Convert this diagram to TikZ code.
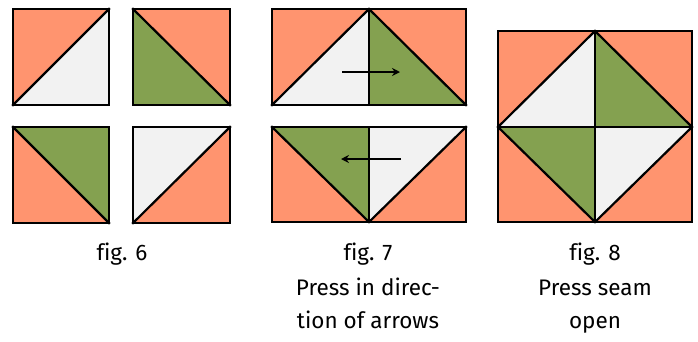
\documentclass[tikz,border=0pt]{standalone}
\usepackage{fontspec}
\setmainfont{Fira Sans}[Ligatures=NoCommon]
\usetikzlibrary{arrows.meta}
\definecolor{salmon}{HTML}{FF946F}
\definecolor{leaf}{HTML}{84A150}
\definecolor{pale}{HTML}{F2F2F2}
\begin{document}
\begin{tikzpicture}[x=1pt,y=-1pt,
  edge/.style={line width=2.2pt,line join=miter,line cap=rect},
  pressarrow/.style={line width=1.8pt,-{Stealth[length=8pt,width=8pt]}},
  caption/.style={anchor=base,inner sep=0pt,font=\fontsize{22.5}{27}\selectfont}]
\useasboundingbox (0,0) rectangle (698,341);
% ---- fig. 6 ----
% top-left
\fill[salmon] (13,9) rectangle (109,105);
\fill[pale] (13,105) -- (109,9) -- (109,105) -- cycle;
\draw[edge] (13,9) rectangle (109,105);
\draw[edge] (13,105) -- (109,9);
% top-right
\fill[salmon] (133,9) rectangle (230,105);
\fill[leaf] (133,9) -- (230,105) -- (133,105) -- cycle;
\draw[edge] (133,9) rectangle (230,105);
\draw[edge] (133,9) -- (230,105);
% bottom-left
\fill[salmon] (13,127) rectangle (109,223);
\fill[leaf] (13,127) -- (109,127) -- (109,223) -- cycle;
\draw[edge] (13,127) rectangle (109,223);
\draw[edge] (13,127) -- (109,223);
% bottom-right
\fill[salmon] (133,127) rectangle (230,223);
\fill[pale] (133,127) -- (230,127) -- (133,223) -- cycle;
\draw[edge] (133,127) rectangle (230,223);
\draw[edge] (133,223) -- (230,127);
% ---- fig. 7 ----
\fill[salmon] (272,9) rectangle (466,105);
\fill[pale] (272,105) -- (369,9) -- (369,105) -- cycle;
\fill[leaf] (369,9) -- (466,105) -- (369,105) -- cycle;
\draw[edge] (272,9) rectangle (466,105);
\draw[edge] (272,105) -- (369,9) -- (466,105);
\draw[edge] (369,9) -- (369,105);
\coordinate (a1s) at (342,72);
\coordinate (a1e) at (400,72);
\draw[pressarrow] (a1s) -- (a1e);
\fill[salmon] (272,127) rectangle (466,222);
\fill[leaf] (272,127) -- (369,127) -- (369,222) -- cycle;
\fill[pale] (369,127) -- (466,127) -- (369,222) -- cycle;
\draw[edge] (272,127) rectangle (466,222);
\draw[edge] (272,127) -- (369,222) -- (466,127);
\draw[edge] (369,127) -- (369,222);
\coordinate (a2s) at (401,159);
\coordinate (a2e) at (341,159);
\draw[pressarrow] (a2s) -- (a2e);
% ---- fig. 8 ----
\fill[salmon] (498,31) rectangle (692,222);
\fill[pale] (595,31) -- (595,127) -- (498,127) -- cycle;
\fill[leaf] (595,31) -- (692,127) -- (595,127) -- cycle;
\fill[leaf] (498,127) -- (595,127) -- (595,222) -- cycle;
\fill[pale] (595,127) -- (692,127) -- (595,222) -- cycle;
\draw[edge] (498,31) rectangle (692,222);
\draw[edge] (595,31) -- (692,127) -- (595,222) -- (498,127) -- cycle;
\draw[edge] (595,31) -- (595,222);
\draw[edge] (498,127) -- (692,127);
% ---- captions ----
\node[caption] (c6) at (122,260) {fig. 6};
\node[caption] (c7a) at (368,260) {fig. 7};
\node[caption] (c7b) at (368,295) {Press in direc-};
\node[caption] (c7c) at (368,328) {tion of arrows};
\node[caption] (c8a) at (595,260) {fig. 8};
\node[caption] (c8b) at (595,295) {Press seam};
\node[caption] (c8c) at (595,328) {open};
\end{tikzpicture}
\end{document}
